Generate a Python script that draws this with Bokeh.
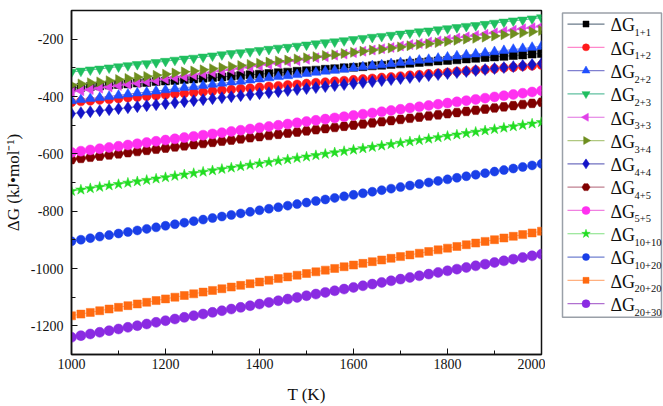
import math
from bokeh.plotting import figure
from bokeh.layouts import row
from bokeh.models import Range1d, SingleIntervalTicker, PrintfTickFormatter
from bokeh.core.properties import value
from bokeh.embed import file_html
from bokeh.resources import INLINE

# ---------------- data ----------------
T = list(range(1000, 2001, 20))  # temperature, K (51 points)

legend_main = "ΔG"
legend_subs = ["1+1", "1+2", "2+2", "2+3", "3+3", "3+4", "4+4",
               "4+5", "5+5", "10+10", "10+20", "20+20", "20+30"]

dG_1_1 = [-370, -368, -365, -363, -360, -358, -356, -353, -351, -348, -346, -344, -341,
          -339, -336, -334, -332, -329, -327, -324, -322, -320, -317, -315, -312, -310,
          -308, -305, -303, -300, -298, -296, -293, -291, -288, -286, -284, -281, -279,
          -276, -274, -272, -269, -267, -264, -262, -260, -257, -255, -252, -250]
dG_1_2 = [-420, -417, -415, -412, -410, -407, -404, -402, -399, -397, -394, -391, -389,
          -386, -384, -381, -378, -376, -373, -371, -368, -365, -363, -360, -358, -355,
          -352, -350, -347, -345, -342, -339, -337, -334, -332, -329, -326, -324, -321,
          -319, -316, -313, -311, -308, -306, -303, -300, -298, -295, -293, -290]
dG_2_2 = [-415, -411, -407, -404, -400, -396, -392, -388, -385, -381, -377, -373, -369,
          -366, -362, -358, -354, -350, -347, -343, -339, -335, -331, -328, -324, -320,
          -316, -312, -309, -305, -301, -297, -293, -290, -286, -282, -278, -274, -271,
          -267, -263, -259, -255, -252, -248, -244, -240, -236, -233, -229, -225]
dG_2_3 = [-315, -311, -307, -304, -300, -296, -292, -288, -285, -281, -277, -273, -269,
          -266, -262, -258, -254, -250, -247, -243, -239, -235, -231, -228, -224, -220,
          -216, -212, -209, -205, -201, -197, -193, -190, -186, -182, -178, -174, -171,
          -167, -163, -159, -155, -152, -148, -144, -140, -136, -133, -129, -125]
dG_3_3 = [-385, -380, -376, -371, -367, -362, -357, -353, -348, -344, -339, -334, -330,
          -325, -321, -316, -311, -307, -302, -298, -293, -288, -284, -279, -275, -270,
          -265, -261, -256, -252, -247, -242, -238, -233, -229, -224, -219, -215, -210,
          -206, -201, -196, -192, -187, -183, -178, -173, -169, -164, -160, -155]
dG_3_4 = [-360, -356, -352, -349, -345, -341, -337, -333, -330, -326, -322, -318, -314,
          -311, -307, -303, -299, -295, -292, -288, -284, -280, -276, -273, -269, -265,
          -261, -257, -254, -250, -246, -242, -238, -235, -231, -227, -223, -219, -216,
          -212, -208, -204, -200, -197, -193, -189, -185, -181, -178, -174, -170]
dG_4_4 = [-460, -456.5, -453, -449.5, -446, -442.5, -439, -435.5, -432, -428.5, -425,
          -421.5, -418, -414.5, -411, -407.5, -404, -400.5, -397, -393.5, -390, -386.5,
          -383, -379.5, -376, -372.5, -369, -365.5, -362, -358.5, -355, -351.5, -348,
          -344.5, -341, -337.5, -334, -330.5, -327, -323.5, -320, -316.5, -313, -309.5,
          -306, -302.5, -299, -295.5, -292, -288.5, -285]
dG_4_5 = [-620, -616, -612, -608, -604, -600, -596, -592, -588, -584, -580, -576, -572,
          -568, -564, -560, -556, -552, -548, -544, -540, -536, -532, -528, -524, -520,
          -516, -512, -508, -504, -500, -496, -492, -488, -484, -480, -476, -472, -468,
          -464, -460, -456, -452, -448, -444, -440, -436, -432, -428, -424, -420]
dG_5_5 = [-595, -590.7, -586.4, -582.1, -577.8, -573.5, -569.2, -564.9, -560.6, -556.3,
          -552, -547.7, -543.4, -539.1, -534.8, -530.5, -526.2, -521.9, -517.6, -513.3,
          -509, -504.7, -500.4, -496.1, -491.8, -487.5, -483.2, -478.9, -474.6, -470.3,
          -466, -461.7, -457.4, -453.1, -448.8, -444.5, -440.2, -435.9, -431.6, -427.3,
          -423, -418.7, -414.4, -410.1, -405.8, -401.5, -397.2, -392.9, -388.6, -384.3, -380]
dG_10_10 = [-730, -725.2, -720.4, -715.6, -710.8, -706, -701.2, -696.4, -691.6, -686.8,
            -682, -677.2, -672.4, -667.6, -662.8, -658, -653.2, -648.4, -643.6, -638.8,
            -634, -629.2, -624.4, -619.6, -614.8, -610, -605.2, -600.4, -595.6, -590.8,
            -586, -581.2, -576.4, -571.6, -566.8, -562, -557.2, -552.4, -547.6, -542.8,
            -538, -533.2, -528.4, -523.6, -518.8, -514, -509.2, -504.4, -499.6, -494.8, -490]
dG_10_20 = [-905, -899.6, -894.2, -888.8, -883.4, -878, -872.6, -867.2, -861.8, -856.4,
            -851, -845.6, -840.2, -834.8, -829.4, -824, -818.6, -813.2, -807.8, -802.4,
            -797, -791.6, -786.2, -780.8, -775.4, -770, -764.6, -759.2, -753.8, -748.4,
            -743, -737.6, -732.2, -726.8, -721.4, -716, -710.6, -705.2, -699.8, -694.4,
            -689, -683.6, -678.2, -672.8, -667.4, -662, -656.6, -651.2, -645.8, -640.4, -635]
dG_20_20 = [-1165, -1159.1, -1153.2, -1147.3, -1141.4, -1135.5, -1129.6, -1123.7, -1117.8,
            -1111.9, -1106, -1100.1, -1094.2, -1088.3, -1082.4, -1076.5, -1070.6, -1064.7,
            -1058.8, -1052.9, -1047, -1041.1, -1035.2, -1029.3, -1023.4, -1017.5, -1011.6,
            -1005.7, -999.8, -993.9, -988, -982.1, -976.2, -970.3, -964.4, -958.5, -952.6,
            -946.7, -940.8, -934.9, -929, -923.1, -917.2, -911.3, -905.4, -899.5, -893.6,
            -887.7, -881.8, -875.9, -870]
dG_20_30 = [-1240, -1234.2, -1228.4, -1222.6, -1216.8, -1211, -1205.2, -1199.4, -1193.6,
            -1187.8, -1182, -1176.2, -1170.4, -1164.6, -1158.8, -1153, -1147.2, -1141.4,
            -1135.6, -1129.8, -1124, -1118.2, -1112.4, -1106.6, -1100.8, -1095, -1089.2,
            -1083.4, -1077.6, -1071.8, -1066, -1060.2, -1054.4, -1048.6, -1042.8, -1037,
            -1031.2, -1025.4, -1019.6, -1013.8, -1008, -1002.2, -996.4, -990.6, -984.8,
            -979, -973.2, -967.4, -961.6, -955.8, -950]

series = [dG_1_1, dG_1_2, dG_2_2, dG_2_3, dG_3_3, dG_3_4, dG_4_4,
          dG_4_5, dG_5_5, dG_10_10, dG_10_20, dG_20_20, dG_20_30]

# ---------------- styles ----------------
marker_colors = ["#000000", "#FF1A1A", "#1F4FFF", "#1FBF5F", "#E040E8", "#6E8E1E", "#1414C8",
                 "#800000", "#FF30F0", "#22DD22", "#1A3FE8", "#FF6A10", "#8A2BE2"]
line_colors = ["#6A7A8A", "#FF88CC", "#8080D0", "#60C0A0", "#E070E0", "#B0C880", "#7070C0",
               "#C08090", "#F080E0", "#80E080", "#7080D0", "#FFB080", "#B070D0"]
markers = ["square", "circle", "triangle", "inverted_triangle", "triangle", "triangle",
           "diamond", "hex", "circle", "star", "circle", "square", "circle"]
angles = [0, 0, 0, 0, math.pi / 2, -math.pi / 2, 0, 0, 0, 0, 0, 0, 0]
sizes = [8, 9, 10, 10, 10, 10, 12, 10, 10, 11, 9, 8, 10]

FONT = "Liberation Serif"
INK = "#111111"
W, H = 663, 406
PW = 545

# ---------------- main plot ----------------
p = figure(width=PW, height=H, output_backend="svg", toolbar_location=None,
           x_range=Range1d(1000, 2000), y_range=Range1d(-1300, -100),
           min_border_left=71, min_border_right=4, min_border_top=10, min_border_bottom=51)

p.xgrid.visible = False
p.ygrid.visible = False
p.outline_line_color = INK
p.outline_line_width = 1.5
p.background_fill_color = "white"
p.border_fill_color = "white"

for ax in (p.xaxis[0], p.yaxis[0]):
    ax.axis_line_width = 1.5
    ax.axis_line_color = INK
    ax.major_tick_in = 6
    ax.major_tick_out = 0
    ax.minor_tick_in = 4
    ax.minor_tick_out = 0
    ax.major_tick_line_color = INK
    ax.minor_tick_line_color = INK
    ax.major_label_text_font = FONT
    ax.major_label_text_font_size = "14px"
    ax.major_label_text_color = INK
    ax.axis_label_text_font = FONT
    ax.axis_label_text_font_style = "normal"
    ax.axis_label_text_color = INK
    ax.formatter = PrintfTickFormatter(format="%d")

p.xaxis[0].ticker = SingleIntervalTicker(interval=200, num_minor_ticks=2)
p.yaxis[0].ticker = SingleIntervalTicker(interval=200, num_minor_ticks=2)
p.xaxis[0].axis_label = "T (K)"
p.yaxis[0].axis_label = "ΔG (kJ•mol⁻¹)"
p.xaxis[0].axis_label_text_font_size = "17px"
p.yaxis[0].axis_label_text_font_size = "17px"
p.xaxis[0].major_label_standoff = 4
p.yaxis[0].major_label_standoff = 8
p.xaxis[0].axis_label_standoff = 13
p.yaxis[0].axis_label_standoff = 5

for i, ys in enumerate(series):
    p.line(T, ys, line_color=line_colors[i], line_width=1)
    p.scatter(T, ys, marker=markers[i], size=sizes[i], angle=angles[i],
              fill_color=marker_colors[i], line_color=marker_colors[i], line_width=0.5)

# ---------------- legend panel (pixel-like coordinates, y downward) ----------------
LW = W - PW
q = figure(width=LW, height=H, output_backend="svg", toolbar_location=None,
           x_range=Range1d(0, LW), y_range=Range1d(H, 0),
           x_axis_location=None, y_axis_location=None,
           min_border_left=0, min_border_right=0, min_border_top=0, min_border_bottom=0)
q.xgrid.visible = False
q.ygrid.visible = False
q.outline_line_color = None
q.background_fill_color = "white"
q.border_fill_color = "white"

box_l, box_r, box_t, box_b = 17, 116, 3, 362
q.quad(left=box_l, right=box_r, top=box_t, bottom=box_b, fill_color="white",
       line_color="#9AA0A8", line_width=1.5)

pitch = 27.5
row0 = 16
n = len(legend_subs)
ys_leg = [row0 + pitch * k for k in range(n)]
seg_x0, seg_x1 = 22, 59
mark_x = (seg_x0 + seg_x1) / 2
txt_x = 65
sub_x = 89

q.segment(x0=[seg_x0] * n, x1=[seg_x1] * n, y0=ys_leg, y1=ys_leg,
          line_color=line_colors, line_width=1.2)
for k in range(n):
    q.scatter([mark_x], [ys_leg[k]], marker=markers[k], size=sizes[k] - 2, angle=angles[k],
              fill_color=marker_colors[k], line_color=marker_colors[k], line_width=0.5)
q.text(x=[txt_x] * n, y=[yy + 1.5 for yy in ys_leg], text=[legend_main] * n,
       text_font=value(FONT), text_font_size="18px", text_color=INK,
       text_baseline="middle", text_align="left")
q.text(x=[sub_x] * n, y=[yy + 10 for yy in ys_leg], text=legend_subs, text_font=value(FONT),
       text_font_size="10.5px", text_color=INK, text_baseline="middle", text_align="left")

layout = row(p, q)
open("out.html", "w").write(file_html(layout, INLINE))
